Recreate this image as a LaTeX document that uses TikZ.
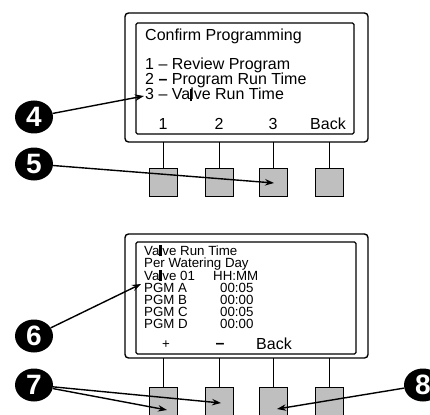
\documentclass[tikz,border=0pt]{standalone}
\usepackage{fontspec}
\setmainfont{Liberation Sans}
\usetikzlibrary{arrows.meta,shapes.geometric}
\begin{document}
\begin{tikzpicture}[x=1pt,y=-1pt,
  frame/.style={draw, line width=1.4pt, rounded corners=3.5pt},
  inframe/.style={draw, line width=1.2pt, rounded corners=1.5pt},
  btn/.style={draw, line width=1pt, fill=black!25, minimum width=28pt, minimum height=28pt, inner sep=0pt},
  stem/.style={line width=0.9pt},
  big/.style={font=\fontsize{16}{16}\selectfont, inner sep=0pt},
  small/.style={font=\fontsize{13.3}{13.3}\selectfont, inner sep=0pt, anchor=base west},
  callout/.style={ellipse, fill=black, text=white, minimum width=38pt, minimum height=33pt, inner sep=0pt,
    font=\fontsize{28}{28}\selectfont\bfseries},
  pointer/.style={line width=1.4pt, -{Stealth[length=9pt,width=6.5pt]}}]
\useasboundingbox (0,0) rectangle (430,414);
\clip (0,0) rectangle (430,414);

% ---------- top panel ----------
\draw[frame] (125,13) rectangle (368,142);
\draw[inframe] (136,23) rectangle (354,134);
\node[big, anchor=base west] (t1) at (145,41) {Confirm Programming};
\node[big, anchor=base west] (t2) at (145,70) {1 – Review Program};
\node[big, anchor=base west] (t3) at (145,85) {2 \textbf{–} Program Run Time};
\node[big, anchor=base west] (t4) at (145,100) {3 – Va\rlap{\rule[-1.5pt]{1.8pt}{12pt}}lve Run Time};
\node[big, anchor=base] (k1) at (163,130) {1};
\node[big, anchor=base] (k2) at (219,130) {2};
\node[big, anchor=base] (k3) at (273,130) {3};
\node[big, anchor=base] (k4) at (328,130) {Back};

\foreach \x/\n in {163/a,219/b,273/c,329/d}{
  \node[btn] (b\n) at (\x,182) {};
  \coordinate (s\n) at (\x,142);
  \draw[stem] (s\n) -- (b\n.north);
}

% ---------- bottom panel ----------
\draw[frame] (125,234) rectangle (368,358);
\draw[inframe] (136,242) rectangle (356,354);
\node[small] (u1) at (144,255) {Va\rlap{\rule[-1pt]{3pt}{11pt}}lve Run Time};
\node[small] (u2) at (144,267) {Per Watering Day};
\node[small] (u3) at (144,280) {Va\rlap{\rule[-1pt]{3pt}{11pt}}lve 01};
\node[small] (u3b) at (213,280) {HH:MM};
\node[small] (u4) at (144,292) {PGM A};
\node[small] (u4b) at (220,292) {00:05};
\node[small] (u5) at (144,304) {PGM B};
\node[small] (u5b) at (220,304) {00:00};
\node[small] (u6) at (144,316) {PGM C};
\node[small] (u6b) at (220,316) {00:05};
\node[small] (u7) at (144,328) {PGM D};
\node[small] (u7b) at (220,328) {00:00};
\node[small, anchor=base] (m1) at (166,348) {+};
\node[big, anchor=base] (m2) at (220,348) {\textbf{–}};
\node[big, anchor=base west] (m3) at (256,349) {Back};

\foreach \x/\n in {163/a,219/b,273/c,329/d}{
  \node[btn, minimum height=40pt, anchor=north] (d\n) at (\x,387) {};
  \coordinate (r\n) at (\x,358);
  \draw[stem] (r\n) -- (d\n.north);
}

% ---------- callouts ----------
\node[callout] (c4) at (34,117) {4};
\node[callout] (c5) at (34,164) {5};
\node[callout] (c6) at (34,336) {6};
\node[callout] (c7) at (34,385) {7};
\node[callout] (c8) at (423,385) {8};

\coordinate (p4) at (144,96);
\coordinate (p5) at (274,183);
\coordinate (p6) at (141,284);
\coordinate (p7a) at (167,410);
\coordinate (p7b) at (221,403);
\coordinate (p8) at (277,409);

\draw[pointer] (c4) -- (p4);
\draw[pointer] (c5) -- (p5);
\draw[pointer] (c6) -- (p6);
\draw[pointer] (c7) -- (p7a);
\draw[pointer] (c7) -- (p7b);
\draw[pointer] (c8) -- (p8);
\end{tikzpicture}
\end{document}
